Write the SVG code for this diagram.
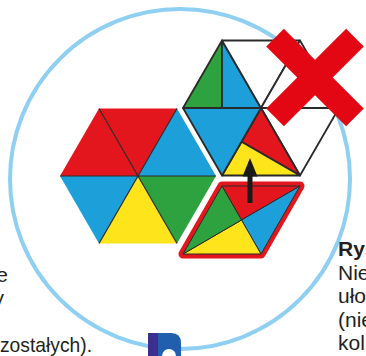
<svg xmlns="http://www.w3.org/2000/svg" width="366" height="356" viewBox="0 0 366 356">
<style>
.r{fill:#e2161c}.b{fill:#1d9fda}.g{fill:#2ea23f}.y{fill:#fde41b}.w{fill:#ffffff}
.in{stroke:#2a2a2a;stroke-width:1;stroke-linejoin:round}
.out{stroke:#2a2a2a;stroke-width:1.8;stroke-linejoin:round}
.t{font-family:"Liberation Sans","Open Sans",sans-serif;font-size:21px;fill:#231f20}
</style>
<rect width="366" height="356" fill="#ffffff"/>
<circle id="ring" cx="180" cy="179" r="170" fill="none" stroke="#8fd0f2" stroke-width="4"/>

<g id="hex-left">
<polygon class="r" points="60,176 99,108.5 138,176"/>
<polygon class="r" points="99,108.5 177,108.5 138,176"/>
<polygon class="b" points="177,108.5 216,176 138,176"/>
<polygon class="g" points="216,176 177,243.5 138,176"/>
<polygon class="y" points="177,243.5 99,243.5 138,176"/>
<polygon class="b" points="99,243.5 60,176 138,176"/>
<path d="M99,108.5 L138,176 M177,108.5 L138,176 M60,176 H216 M138,176 L99,243.5 M138,176 L177,243.5" stroke="#2a2a2a" stroke-width="1.2" fill="none"/>
</g>

<g id="hex-right">
<polygon class="g out" points="183,108 222,40.5 222,108"/>
<polygon class="b out" points="222,40.5 261,108 222,108"/>
<polygon class="w out" points="222,40.5 300,40.5 261,108"/>
<polygon class="w out" points="300,40.5 339,108 261,108"/>
<polygon class="w out" points="339,108 300,175.5 261,108"/>
<polygon class="r out" points="261,108 300,175.5 241.5,141.75"/>
<polygon class="y out" points="241.5,141.75 300,175.5 222,175.5"/>
<polygon class="b out" points="222,175.5 183,108 261,108"/>
</g>

<g id="cross">
<rect x="258.5" y="65" width="113" height="25" fill="#e30613" transform="rotate(45 315 77.5)"/>
<rect x="258.5" y="65" width="113" height="25" fill="#e30613" transform="rotate(-45 315 77.5)"/>
</g>

<g id="rhombus">
<polygon points="222,186 300,186 261,254 183,254" fill="#e2161c" stroke="#e2161c" stroke-width="9" stroke-linejoin="round"/>
<polygon class="r in" points="222,186 300,186 241.5,220"/>
<polygon class="b in" points="300,186 261,254 241.5,220"/>
<polygon class="y in" points="261,254 183,254 241.5,220"/>
<polygon class="g in" points="183,254 222,186 241.5,220"/>
</g>

<g id="connectors">
<polygon points="250,158 257.5,176.5 252.5,176.5 252.5,203 247.5,203 247.5,176.5 242.5,176.5" fill="#1a1a1a"/>
</g>

<g id="logo">
<rect x="148" y="333" width="14" height="23" fill="#3c2e8e"/>
<path d="M158,333 H171 Q181,333 181,343 V356 H158 Z" fill="#1f5fae"/>
<path d="M162,356 A7,7 0 0 1 176,356 Z" fill="#ffffff"/>
</g>

<g id="text-left">
<text class="t" x="8" y="282" text-anchor="end">e</text>
<text class="t" x="4" y="305" text-anchor="end">y</text>
<text class="t" x="0" y="352" textLength="92" lengthAdjust="spacingAndGlyphs">zostałych).</text>
</g>
<g id="text-right">
<text class="t" x="338" y="256" font-weight="bold">Rys</text>
<text class="t" x="338" y="279.5">Nie</text>
<text class="t" x="338" y="303">ułoż</text>
<text class="t" x="338" y="326.5">(nie</text>
<text class="t" x="338" y="350">kol</text>
</g>
</svg>
